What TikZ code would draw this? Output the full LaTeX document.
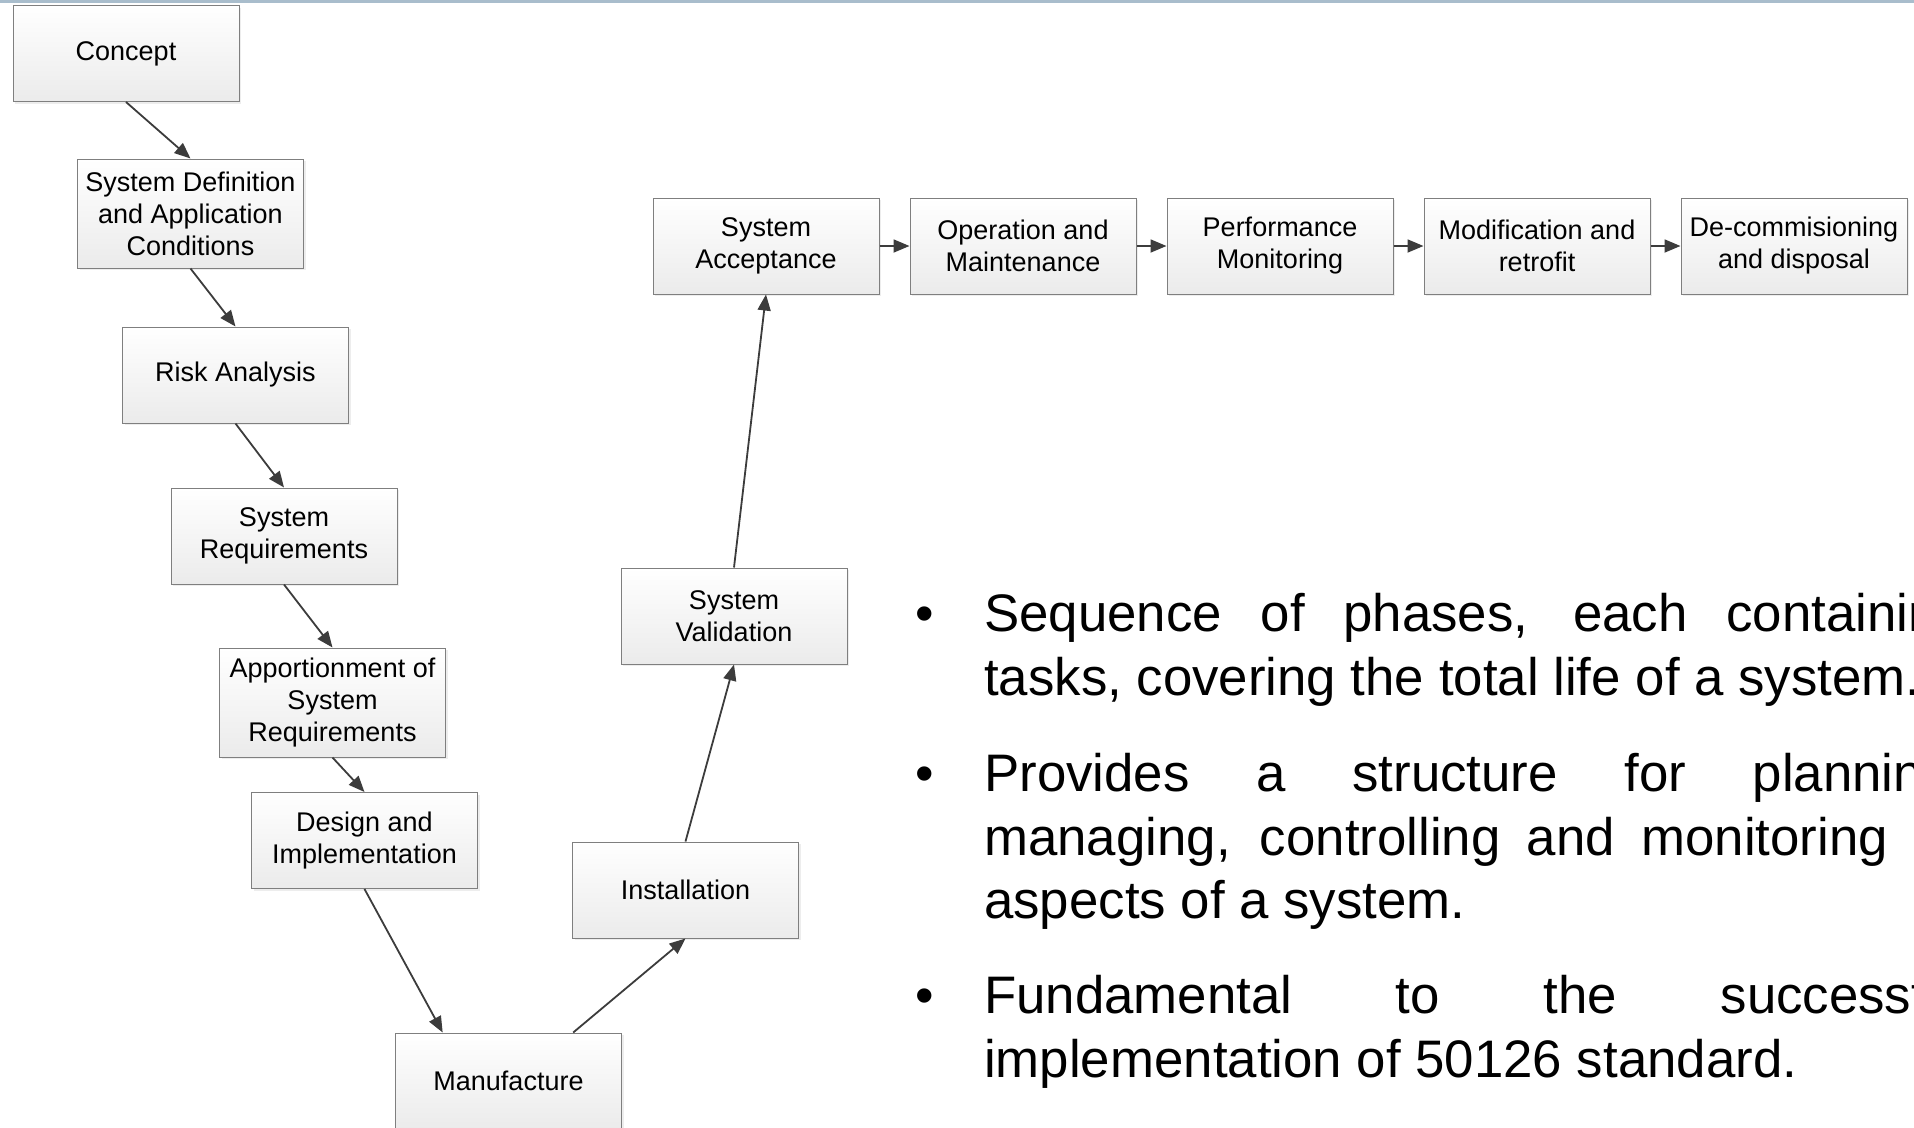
\documentclass[tikz,border=0pt]{standalone}
\usepackage{fontspec}
\setmainfont{Liberation Sans}
\usetikzlibrary{arrows.meta,shadows,calc}
\definecolor{boxline}{HTML}{7F7F7F}
\definecolor{boxbottom}{HTML}{EBEBEB}
\definecolor{arrowgray}{HTML}{3C3C3C}
\definecolor{band}{HTML}{A9BDCC}
\begin{document}
\begin{tikzpicture}[x=1pt,y=-1pt,
  phase/.style={draw=boxline, line width=1pt, top color=white, bottom color=boxbottom,
    minimum width=226pt, minimum height=96pt, inner sep=0pt, align=center,
    font=\fontsize{27}{32}\selectfont,
    drop shadow={shadow xshift=2pt, shadow yshift=-2pt, fill=black, opacity=0.07}},
  tall/.style={minimum height=109pt},
  flow/.style={draw=arrowgray, line width=1.8pt, -{Triangle[length=16pt,width=13pt]}},
  bullettext/.style={anchor=base west, inner sep=0pt, font=\fontsize{52.8}{63.5}\selectfont},
]
\useasboundingbox (0,0) rectangle (1914,1127);
\begin{scope}
\clip (0,0) rectangle (1914,1127);
% thin band along the top edge
\fill[band] (0,0) rectangle (1914,2.5);

% descending branch
\node[phase] (concept) at (126,53.5) {Concept};
\node[phase,tall] (sysdef) at (190.5,213.5) {System Definition\\and Application\\Conditions};
\node[phase] (risk) at (235.5,375) {Risk Analysis};
\node[phase] (sysreq) at (284,536) {System\\Requirements};
\node[phase,tall] (apport) at (332.5,702.5) {Apportionment of\\System\\Requirements};
\node[phase] (design) at (364.5,840.5) {Design and\\Implementation};
\node[phase] (manuf) at (508.5,1081) {Manufacture};

% ascending branch
\node[phase] (install) at (685.5,890) {Installation};
\node[phase] (valid) at (734,616) {System\\Validation};

% operational row
\node[phase] (accept) at (766,246) {System\\Acceptance};
\node[phase] (operate) at (1023,246) {Operation and\\Maintenance};
\node[phase] (perform) at (1280,246) {Performance\\Monitoring};
\node[phase] (modify) at (1537,246) {Modification and\\retrofit};
\node[phase] (decom) at (1794,246) {De-commisioning\\and disposal};

% connectors
\draw[flow] (concept.south) -- (sysdef.north);
\draw[flow] (sysdef.south) -- (risk.north);
\draw[flow] (risk.south) -- (sysreq.north);
\draw[flow] (sysreq.south) -- (apport.north);
\draw[flow] (apport.south) -- (design.north);
\draw[flow] (design.south) -- ($(manuf.north west)!0.21!(manuf.north east)$);
\draw[flow] ($(manuf.north west)!0.785!(manuf.north east)$) -- (install.south);
\draw[flow] (install.north) -- (valid.south);
\draw[flow] (valid.north) -- (accept.south);
\draw[flow] (accept.east) -- (operate.west);
\draw[flow] (operate.east) -- (perform.west);
\draw[flow] (perform.east) -- (modify.west);
\draw[flow] (modify.east) -- (decom.west);

% bullet list
\node[bullettext] (b1) at (915,631) {•};
\node[bullettext] (p1a) at (984,631) {\makebox[983pt][s]{Sequence of phases, each containing}};
\node[bullettext] (p1b) at (984,695) {tasks, covering the total life of a system.};
\node[bullettext] (b2) at (915,791) {•};
\node[bullettext] (p2a) at (984,791) {\makebox[983pt][s]{Provides a structure for planning,}};
\node[bullettext] (p2b) at (984,855) {\makebox[983pt][s]{managing, controlling and monitoring all}};
\node[bullettext] (p2c) at (984,918) {aspects of a system.};
\node[bullettext] (b3) at (915,1013) {•};
\node[bullettext] (p3a) at (984,1013) {\makebox[983pt][s]{Fundamental to the successful}};
\node[bullettext] (p3b) at (984,1077) {implementation of 50126 standard.};
\end{scope}
\end{tikzpicture}
\end{document}
